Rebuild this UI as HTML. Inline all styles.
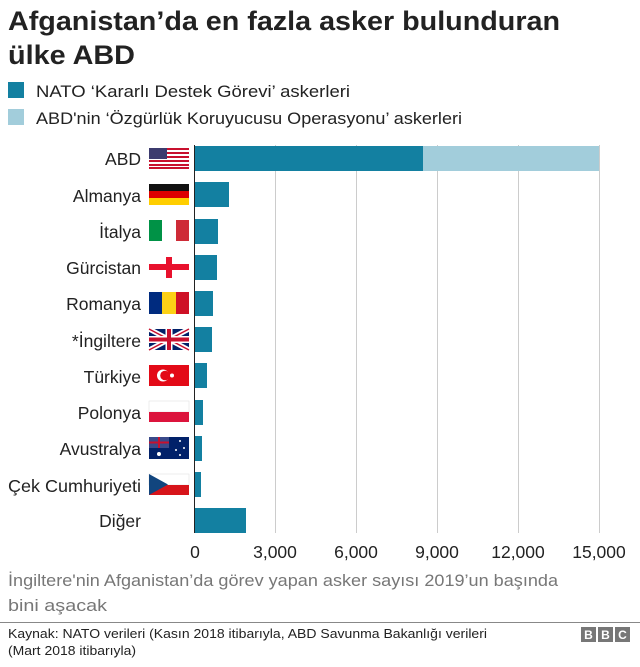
<!DOCTYPE html>
<html><head><meta charset="utf-8"><style>
body{margin:0;background:#fff;width:640px;height:662px;overflow:hidden;font-family:"Liberation Sans",Arial,sans-serif}
</style></head><body>
<svg width="640" height="662" xmlns="http://www.w3.org/2000/svg" font-family="Liberation Sans, Arial, sans-serif">
<text x="8" y="30" font-size="27" font-weight="bold" fill="#222" textLength="552" lengthAdjust="spacingAndGlyphs">Afganistan’da en fazla asker bulunduran</text>
<text x="8" y="64" font-size="27" font-weight="bold" fill="#222" textLength="127" lengthAdjust="spacingAndGlyphs">ülke ABD</text>
<rect x="8" y="82" width="16" height="16" fill="#1380a1"/>
<text x="36" y="97" font-size="17" fill="#222" textLength="314" lengthAdjust="spacingAndGlyphs">NATO ‘Kararlı Destek Görevi’ askerleri</text>
<rect x="8" y="109" width="16" height="16" fill="#a2cddb"/>
<text x="36" y="124" font-size="17" fill="#222" textLength="426" lengthAdjust="spacingAndGlyphs">ABD'nin ‘Özgürlük Koruyucusu Operasyonu’ askerleri</text>
<g stroke="#ccc" stroke-width="1">
<line x1="275.5" y1="145" x2="275.5" y2="533"/><line x1="356.5" y1="145" x2="356.5" y2="533"/><line x1="437.5" y1="145" x2="437.5" y2="533"/><line x1="518.5" y1="145" x2="518.5" y2="533"/><line x1="599.5" y1="145" x2="599.5" y2="533"/>
</g>
<g fill="#1380a1">
<rect x="195" y="146" width="228" height="25"/>
<rect x="195" y="182" width="34" height="25"/>
<rect x="195" y="219" width="23" height="25"/>
<rect x="195" y="255" width="22" height="25"/>
<rect x="195" y="291" width="18" height="25"/>
<rect x="195" y="327" width="17" height="25"/>
<rect x="195" y="363" width="12" height="25"/>
<rect x="195" y="400" width="8" height="25"/>
<rect x="195" y="436" width="7" height="25"/>
<rect x="195" y="472" width="6" height="25"/>
<rect x="195" y="508" width="51" height="25"/>
</g>
<rect x="423" y="146" width="176" height="25" fill="#a2cddb"/>
<line x1="194.5" y1="145" x2="194.5" y2="533" stroke="#222"/>
<g font-size="17.5" fill="#222" text-anchor="end">
<text x="141" y="165">ABD</text><text x="141" y="202">Almanya</text><text x="141" y="238">İtalya</text><text x="141" y="274">Gürcistan</text><text x="141" y="310">Romanya</text><text x="141" y="347">*İngiltere</text><text x="141" y="383">Türkiye</text><text x="141" y="419">Polonya</text><text x="141" y="455">Avustralya</text><text x="141" y="492" textLength="133" lengthAdjust="spacingAndGlyphs">Çek Cumhuriyeti</text><text x="141" y="527">Diğer</text>
</g>
<!-- flags -->
<g>
<rect x="149" y="148" width="40" height="21" fill="#fff"/>
<g fill="#c8102e"><rect x="149" y="148" width="40" height="2"/><rect x="149" y="152" width="40" height="2"/><rect x="149" y="156" width="40" height="2"/><rect x="149" y="160" width="40" height="2"/><rect x="149" y="164" width="40" height="2"/><rect x="149" y="167" width="40" height="2"/></g>
<rect x="149" y="148" width="18" height="11" fill="#3c3b6e"/>
<rect x="149" y="184" width="40" height="7" fill="#111"/><rect x="149" y="191" width="40" height="7" fill="#dd0000"/><rect x="149" y="198" width="40" height="7" fill="#ffce00"/>
<rect x="149" y="220" width="13" height="21" fill="#009246"/><rect x="176" y="220" width="13" height="21" fill="#ce2b37"/>
<rect x="149" y="257" width="40" height="21" fill="#fff"/><rect x="166" y="257" width="6" height="21" fill="#e8112d"/><rect x="149" y="264" width="40" height="6" fill="#e8112d"/>
<rect x="149" y="292" width="13" height="22" fill="#002b7f"/><rect x="162" y="292" width="14" height="22" fill="#fcd116"/><rect x="176" y="292" width="13" height="22" fill="#ce1126"/>
<rect x="149" y="329" width="40" height="21" fill="#012169"/>
<path d="M149 329L189 350M189 329L149 350" stroke="#fff" stroke-width="5"/><path d="M149 329L189 350M189 329L149 350" stroke="#c8102e" stroke-width="1.5"/>
<path d="M169 329V350M149 339.5H189" stroke="#fff" stroke-width="7"/><path d="M169 329V350M149 339.5H189" stroke="#c8102e" stroke-width="4"/>
<rect x="149" y="365" width="40" height="21" fill="#e30a17"/><circle cx="163" cy="375.5" r="6" fill="#fff"/><circle cx="165" cy="375.5" r="4.8" fill="#e30a17"/><circle cx="172" cy="375.5" r="2" fill="#fff"/>
<rect x="149" y="401" width="40" height="11" fill="#fff" stroke="#ddd" stroke-width="0.5"/><rect x="149" y="412" width="40" height="10" fill="#dc143c"/>
<rect x="149" y="437" width="40" height="22" fill="#012169"/><rect x="149" y="437" width="20" height="11" fill="#3a4a8a"/><path d="M159 437V448M149 442.5H169" stroke="#c8102e" stroke-width="2"/><g fill="#fff"><circle cx="159" cy="454" r="2"/><circle cx="180" cy="441" r="1"/><circle cx="184" cy="448" r="1"/><circle cx="176" cy="450" r="1"/><circle cx="180" cy="455" r="1"/></g>
<rect x="149" y="474" width="40" height="11" fill="#fff" stroke="#ddd" stroke-width="0.5"/><rect x="149" y="485" width="40" height="10" fill="#d7141a"/><path d="M149 474L168 484.5L149 495Z" fill="#11457e"/>
</g>
<g font-size="17.5" fill="#222" text-anchor="middle">
<text x="195" y="558">0</text><text x="275" y="558">3,000</text><text x="356" y="558">6,000</text><text x="437" y="558">9,000</text><text x="518" y="558">12,000</text><text x="599" y="558">15,000</text>
</g>
<text x="8" y="586" font-size="17" fill="#777" textLength="550" lengthAdjust="spacingAndGlyphs">İngiltere'nin Afganistan’da görev yapan asker sayısı 2019’un başında</text>
<text x="8" y="611" font-size="17" fill="#777" textLength="99" lengthAdjust="spacingAndGlyphs">bini aşacak</text>
<line x1="0" y1="622.5" x2="640" y2="622.5" stroke="#888"/>
<text x="8" y="638" font-size="13" fill="#222" textLength="479" lengthAdjust="spacingAndGlyphs">Kaynak: NATO verileri (Kasın 2018 itibarıyla, ABD Savunma Bakanlığı verileri</text>
<text x="8" y="655" font-size="13" fill="#222" textLength="128" lengthAdjust="spacingAndGlyphs">(Mart 2018 itibarıyla)</text>
<g fill="#777"><rect x="581" y="627" width="15" height="15"/><rect x="598" y="627" width="15" height="15"/><rect x="615" y="627" width="15" height="15"/></g>
<g fill="#fff" font-size="12" font-weight="bold" text-anchor="middle"><text x="588.5" y="639">B</text><text x="605.5" y="639">B</text><text x="622.5" y="639">C</text></g>
</svg>
</body></html>
